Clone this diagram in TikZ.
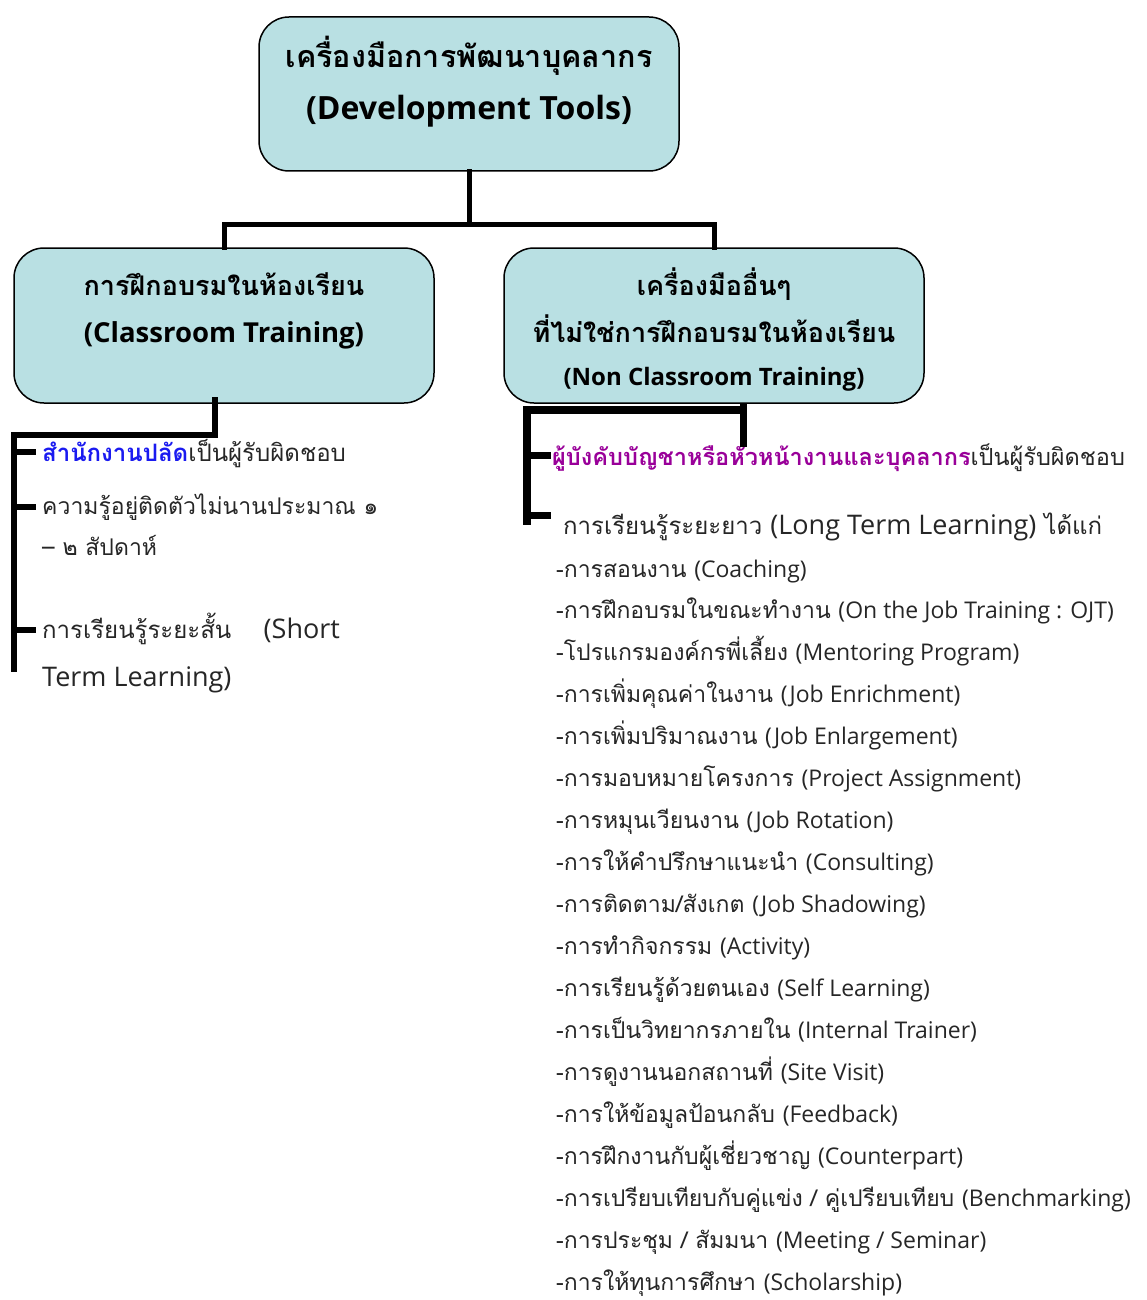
\documentclass[tikz,border=0pt]{standalone}
\usepackage{fontspec}
\setmainfont[Script=Thai]{Loma}
\newfontfamily\latfont{Open Sans}
\newcommand{\lat}[1]{{\latfont #1}}
\newcommand{\latb}[1]{{\latfont\fontsize{27}{32}\selectfont #1}}
\definecolor{boxfill}{HTML}{B9E0E3}
\definecolor{resp}{HTML}{1A1AF0}
\definecolor{boss}{HTML}{990099}
\definecolor{itemtxt}{HTML}{262626}
\begin{document}
\begin{tikzpicture}[x=1pt,y=-1pt,
  box/.style={draw=black, line width=1.5pt, fill=boxfill, rounded corners=30pt, inner sep=0pt},
  conn/.style={line width=5pt, line join=miter, line cap=rect},
  spine/.style={line width=6pt, line join=miter},
  tick/.style={line width=6pt},
  hd/.style={anchor=base, font=\bfseries\fontsize{30.5}{34}\selectfont},
  hdb/.style={anchor=base, font=\bfseries\fontsize{27}{30}\selectfont},
  txt/.style={anchor=base west, inner sep=0pt, text=itemtxt},
  lst/.style={txt, font=\fontsize{23}{28}\selectfont},
  big/.style={txt, font=\fontsize{24}{32}\selectfont}]
\useasboundingbox (0,0) rectangle (1147,1300);
% boxes
\node[box, minimum width=420pt, minimum height=154pt] (top) at (469,94) {};
\node[box, minimum width=420pt, minimum height=155pt] (left) at (224,325.5) {};
\node[box, minimum width=420pt, minimum height=155pt] (right) at (714,325.5) {};
% box texts
\node[hd] (t1) at (469,68) {เครื่องมือการพัฒนาบุคลากร};
\node[anchor=base, font=\bfseries\fontsize{32}{34}\selectfont] (t2) at (469,120) {\lat{(Development Tools)}};
\node[hdb] (l1) at (224,295) {การฝึกอบรมในห้องเรียน};
\node[anchor=base, font=\bfseries\fontsize{27.5}{30}\selectfont] (l2) at (224,342) {\lat{(Classroom Training)}};
\node[hdb] (r1) at (714,295) {เครื่องมืออื่นๆ};
\node[hdb] (r2) at (714,342) {ที่ไม่ใช่การฝึกอบรมในห้องเรียน};
\node[anchor=base, font=\bfseries\fontsize{24}{26}\selectfont] (r3) at (714,385) {\lat{(Non Classroom Training)}};
% connectors top
\coordinate (mid) at (469,224);
\draw[conn] (top.south) -- (mid) -| (left.north);
\draw[conn] (mid) -| (right.north);
% left texts
\node[txt, font=\fontsize{24}{28}\selectfont] (a1) at (42,461) {\textcolor{resp}{\bfseries สำนักงานปลัด}เป็นผู้รับผิดชอบ};
\node[lst] (a2) at (42,514) {ความรู้อยู่ติดตัวไม่นานประมาณ ๑};
\node[lst] (a3) at (42,555) {– ๒ สัปดาห์};
\node[big] (a4) at (42,638) {การเรียนรู้ระยะสั้น \ \ \ \latb{(Short}};
\node[big] (a5) at (42,686) {\latb{Term Learning)}};
% left branch
\coordinate (lb0) at (215,397);
\coordinate (lb1) at (215,435);
\coordinate (lb2) at (14,435);
\coordinate (lb3) at (14,672);
\draw[spine] (lb0) -- (lb1) -- (lb2) -- (lb3);
\coordinate (lt1) at (14,452); \coordinate (le1) at (36,452);
\coordinate (lt2) at (14,507); \coordinate (le2) at (36,507);
\coordinate (lt3) at (14,630); \coordinate (le3) at (36,630);
\draw[tick] (lt1) -- (le1);
\draw[tick] (lt2) -- (le2);
\draw[tick] (lt3) -- (le3);
% right texts
\node[txt, font=\fontsize{23.5}{28}\selectfont] (b1) at (552,465) {\textcolor{boss}{\bfseries ผู้บังคับบัญชาหรือหัวหน้างานและบุคลากร}เป็นผู้รับผิดชอบ};
\node[big] (b2) at (563,534) {การเรียนรู้ระยะยาว \latb{(Long Term Learning)} ได้แก่};
% right branch
\coordinate (rb0) at (743,403);
\coordinate (rb1) at (743,447);
\coordinate (rb3) at (527,410);
\coordinate (rb4) at (527,525);
\draw[line width=7pt] (rb0) -- (rb1);
\draw[line width=8pt, line join=miter] (746,410) -- (rb3) -- (rb4);
\coordinate (rt1) at (527,455); \coordinate (re1) at (551,455);
\coordinate (rt2) at (527,515); \coordinate (re2) at (551,515);
\draw[line width=7pt] (rt1) -- (re1);
\draw[line width=7pt] (rt2) -- (re2);
% list
\foreach \t [count=\i from 0] in {
 {-การสอนงาน \lat{(Coaching)}},
 {-การฝึกอบรมในขณะทำงาน \lat{(On the Job Training : OJT)}},
 {-โปรแกรมองค์กรพี่เลี้ยง \lat{(Mentoring Program)}},
 {-การเพิ่มคุณค่าในงาน \lat{(Job Enrichment)}},
 {-การเพิ่มปริมาณงาน \lat{(Job Enlargement)}},
 {-การมอบหมายโครงการ \lat{(Project Assignment)}},
 {-การหมุนเวียนงาน \lat{(Job Rotation)}},
 {-การให้คำปรึกษาแนะนำ \lat{(Consulting)}},
 {-การติดตาม/สังเกต \lat{(Job Shadowing)}},
 {-การทำกิจกรรม \lat{(Activity)}},
 {-การเรียนรู้ด้วยตนเอง \lat{(Self Learning)}},
 {-การเป็นวิทยากรภายใน \lat{(Internal Trainer)}},
 {-การดูงานนอกสถานที่ \lat{(Site Visit)}},
 {-การให้ข้อมูลป้อนกลับ \lat{(Feedback)}},
 {-การฝึกงานกับผู้เชี่ยวชาญ \lat{(Counterpart)}},
 {-การเปรียบเทียบกับคู่แข่ง / คู่เปรียบเทียบ \lat{(Benchmarking)}},
 {-การประชุม / สัมมนา \lat{(Meeting / Seminar)}},
 {-การให้ทุนการศึกษา \lat{(Scholarship)}}}
 \node[lst] (c\i) at (556,{577+41.95*\i}) {\t};
\end{tikzpicture}
\end{document}
